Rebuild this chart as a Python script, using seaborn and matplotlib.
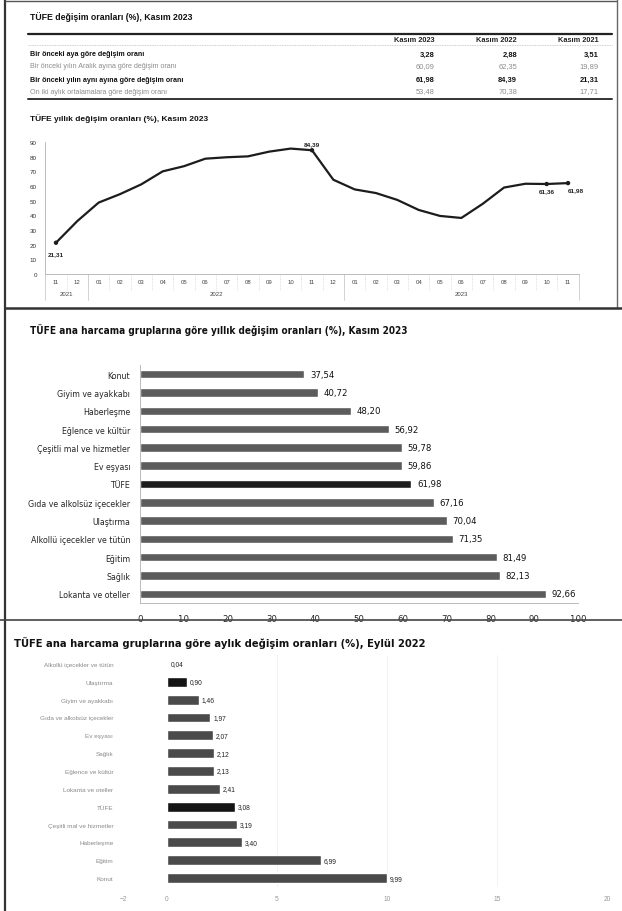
import matplotlib
matplotlib.use("Agg")
import matplotlib.pyplot as plt
import seaborn as sns
import pandas as pd
import numpy as np

W, H = 622, 912
sns.set_theme(style="white")
plt.rcParams['font.family'] = ['Liberation Sans', 'DejaVu Sans']
NARROW = ['DejaVu Sans']
STRETCH = 'condensed'

# ---------------- data ----------------
table_cols = ['Kasım 2023', 'Kasım 2022', 'Kasım 2021']
table_rows = ['Bir önceki aya göre değişim oranı',
              'Bir önceki yılın Aralık ayına göre değişim oranı',
              'Bir önceki yılın aynı ayına göre değişim oranı',
              'On iki aylık ortalamalara göre değişim oranı']
table_2023 = [3.28, 60.09, 61.98, 53.48]
table_2022 = [2.88, 62.35, 84.39, 70.38]
table_2021 = [3.51, 19.89, 21.31, 17.71]

months = ['11', '12', '01', '02', '03', '04', '05', '06', '07', '08', '09', '10', '11', '12',
          '01', '02', '03', '04', '05', '06', '07', '08', '09', '10', '11']
years = ['2021', '2022', '2023']
year_spans = [(0, 1), (2, 13), (14, 24)]
annual = [21.31, 36.08, 48.69, 54.44, 61.14, 69.97, 73.50, 78.62, 79.60, 80.21, 83.45, 85.51,
          84.39, 64.27, 57.68, 55.18, 50.51, 43.68, 39.59, 38.21, 47.83, 58.94, 61.53, 61.36, 61.98]
labeled_idx = [0, 12, 23, 24]

groups_y = ['Konut', 'Giyim ve ayakkabı', 'Haberleşme', 'Eğlence ve kültür',
            'Çeşitli mal ve hizmetler', 'Ev eşyası', 'TÜFE', 'Gıda ve alkolsüz içecekler',
            'Ulaştırma', 'Alkollü içecekler ve tütün', 'Eğitim', 'Sağlık', 'Lokanta ve oteller']
values_y = [37.54, 40.72, 48.20, 56.92, 59.78, 59.86, 61.98, 67.16, 70.04, 71.35, 81.49, 82.13, 92.66]

groups_m = ['Alkollü içecekler ve tütün', 'Ulaştırma', 'Giyim ve ayakkabı',
            'Gıda ve alkolsüz içecekler', 'Ev eşyası', 'Sağlık', 'Eğlence ve kültür',
            'Lokanta ve oteller', 'TÜFE', 'Çeşitli mal ve hizmetler', 'Haberleşme', 'Eğitim', 'Konut']
values_m = [0.04, 0.90, 1.46, 1.97, 2.07, 2.12, 2.13, 2.41, 3.08, 3.19, 3.40, 6.99, 9.99]


def fmt(v):
    return f"{v:.2f}".replace('.', ',')


def box(l, t, r, b):
    return [l / W, 1 - b / H, (r - l) / W, (b - t) / H]


fig = plt.figure(figsize=(W / 100, H / 100), dpi=100)
fig.patch.set_facecolor('white')

# ---------------- line chart ----------------
ax1 = fig.add_axes(box(45.3, 143, 578.7, 275))
df_line = pd.DataFrame({'i': np.arange(len(annual)), 'v': annual})
sns.lineplot(data=df_line, x='i', y='v', ax=ax1, color='#1c1c1c', linewidth=1.6)
sns.scatterplot(data=df_line.iloc[labeled_idx], x='i', y='v', ax=ax1, color='#1c1c1c',
                s=10, edgecolor='none', zorder=5)
ax1.set_xlim(-0.5, 24.5)
ax1.set_ylim(0, 90)
ax1.set_yticks(range(0, 91, 10))
ax1.set_xticks([])
ax1.set_xlabel('')
ax1.set_ylabel('')
ax1.tick_params(axis='y', labelsize=4.5, labelcolor='#333333', length=0, pad=6)
for s in ['top', 'right']:
    ax1.spines[s].set_visible(False)
for s in ['left', 'bottom']:
    ax1.spines[s].set_color('#bbbbbb')
    ax1.spines[s].set_linewidth(0.7)
offsets = {0: (0.2, -6, 'center', 'top'), 12: (0, 3, 'center', 'bottom'),
           23: (0, -3, 'center', 'top'), 24: (0.2, -3, 'left', 'top')}
for i in labeled_idx:
    dx, dy, ha, va = offsets[i]
    ax1.annotate(fmt(annual[i]), (i, annual[i]), xytext=(dx, dy), textcoords='offset points',
                 ha=ha, va=va, fontsize=4.6, fontweight='bold', color='#222222')
tr = ax1.get_xaxis_transform()
for i, m in enumerate(months):
    ax1.text(i, -0.06, m, transform=tr, ha='center', va='center', fontsize=4.3, color='#444444')
for i in range(len(months) + 1):
    ax1.plot([i - 0.5, i - 0.5], [0, -0.12], transform=tr, color='#cccccc', lw=0.6,
             ls=':', clip_on=False)
for (a, b), y in zip(year_spans, years):
    ax1.text((a + b) / 2, -0.145, y, transform=tr, ha='center', va='center', fontsize=4.3,
             color='#444444')
for x in [-0.5, 1.5, 13.5, 24.5]:
    ax1.plot([x, x], [0, -0.2], transform=tr, color='#cccccc', lw=0.6, clip_on=False)

# ---------------- annual bar chart ----------------
ax2 = fig.add_axes(box(140, 366, 578, 604))
df_y = pd.DataFrame({'grup': groups_y, 'deger': values_y})
pal_y = {g: ('#1e1e1e' if g == 'TÜFE' else '#5c5c5c') for g in groups_y}
sns.barplot(data=df_y, y='grup', x='deger', hue='grup', palette=pal_y, legend=False,
            order=groups_y, width=0.46, ax=ax2, saturation=1)
ax2.set_xlim(0, 100)
ax2.set_xticks(range(0, 101, 10))
ax2.set_xlabel('')
ax2.set_ylabel('')
ax2.tick_params(axis='x', labelsize=6.8, length=2, color='#aaaaaa', pad=6)
ax2.tick_params(axis='y', labelsize=6.3, length=0, pad=7)
for lab in ax2.get_xticklabels() + ax2.get_yticklabels():
    lab.set_family(NARROW)
    lab.set_stretch(STRETCH)
for s in ['top', 'right']:
    ax2.spines[s].set_visible(False)
for s in ['left', 'bottom']:
    ax2.spines[s].set_color('#bbbbbb')
    ax2.spines[s].set_linewidth(0.7)
for cont in ax2.containers:
    ax2.bar_label(cont, labels=[fmt(v) for v in cont.datavalues], padding=4,
                  fontsize=6.8, family=NARROW, fontstretch=STRETCH, color='#111111')

# ---------------- monthly bar chart ----------------
ax3 = fig.add_axes(box(123, 656, 607, 888))
df_m = pd.DataFrame({'grup': groups_m, 'deger': values_m})
pal_m = {g: ('#141414' if g in ('TÜFE', 'Ulaştırma') else '#4a4a4a') for g in groups_m}
sns.barplot(data=df_m, y='grup', x='deger', hue='grup', palette=pal_m, legend=False,
            order=groups_m, width=0.55, ax=ax3, saturation=1)
ax3.set_xlim(-2, 20)
ax3.set_xticks([-2, 0, 5, 10, 15, 20])
ax3.set_xlabel('')
ax3.set_ylabel('')
ax3.tick_params(axis='x', labelsize=4.8, labelcolor='#999999', length=0, pad=6)
ax3.tick_params(axis='y', labelsize=4.6, labelcolor='#8a8a8a', length=0, pad=7)
for s in ['top', 'right', 'left', 'bottom']:
    ax3.spines[s].set_visible(False)
for x in [5, 10, 15, 20]:
    ax3.axvline(x, color='#f0f0f0', lw=0.6, zorder=0)
for cont in ax3.containers:
    ax3.bar_label(cont, labels=[fmt(v) for v in cont.datavalues], padding=2,
                  fontsize=4.8, color='#222222')

# ---------------- overlay: titles, table, frames ----------------
ov = fig.add_axes([0, 0, 1, 1])
ov.set_xlim(0, W)
ov.set_ylim(H, 0)
ov.axis('off')
ov.patch.set_alpha(0)

ov.text(30, 17, 'TÜFE değişim oranları (%), Kasım 2023', fontsize=6.3, fontweight='bold',
        va='center', ha='left', color='#111111')
ov.plot([28, 612], [35, 35], color='#222222', lw=1.6)
ov.plot([28, 612], [46, 46], color='#bbbbbb', lw=0.6, ls=(0, (1, 1)))
col_right = [435, 517, 599]
for c, xr in zip(table_cols, col_right):
    ov.text(xr, 41, c, fontsize=5.3, fontweight='bold', ha='right', va='center', color='#222222')
row_y = [55, 67, 80, 92]
for r, (lab, yv) in enumerate(zip(table_rows, row_y)):
    dark = r in (0, 2)
    col = '#111111' if dark else '#8c8c8c'
    wt = 'bold' if dark else 'normal'
    ov.text(30, yv, lab, fontsize=5.1, fontweight=wt, ha='left', va='center', color=col)
    for vals, xr in zip([table_2023, table_2022, table_2021], col_right):
        ov.text(xr, yv, fmt(vals[r]), fontsize=5.4, fontweight=wt, ha='right', va='center',
                color=col)
ov.plot([28, 612], [100, 100], color='#333333', lw=1.4)

ov.text(30, 119, 'TÜFE yıllık değişim oranları (%), Kasım 2023', fontsize=6.0,
        fontweight='bold', va='center', ha='left', color='#111111')
ov.text(30, 330, 'TÜFE ana harcama gruplarına göre yıllık değişim oranları (%), Kasım 2023',
        fontsize=7.2, fontweight='bold', va='center', ha='left', color='#111111',
        family=NARROW, fontstretch=STRETCH)
ov.text(14, 643, 'TÜFE ana harcama gruplarına göre aylık değişim oranları (%), Eylül 2022',
        fontsize=7.2, fontweight='bold', va='center', ha='left', color='#111111',
        family=['DejaVu Sans'])

# frames
ov.plot([5, 5], [0, H], color='#333333', lw=1.6)
ov.plot([5, 617], [1.5, 1.5], color='#555555', lw=1.0)
ov.plot([617, 617], [0, 309], color='#666666', lw=1.0)
ov.plot([5, W], [309, 309], color='#333333', lw=1.8)
ov.plot([0, W], [621, 621], color='#444444', lw=1.2)

fig.savefig('out.png', dpi=100, facecolor='white')
